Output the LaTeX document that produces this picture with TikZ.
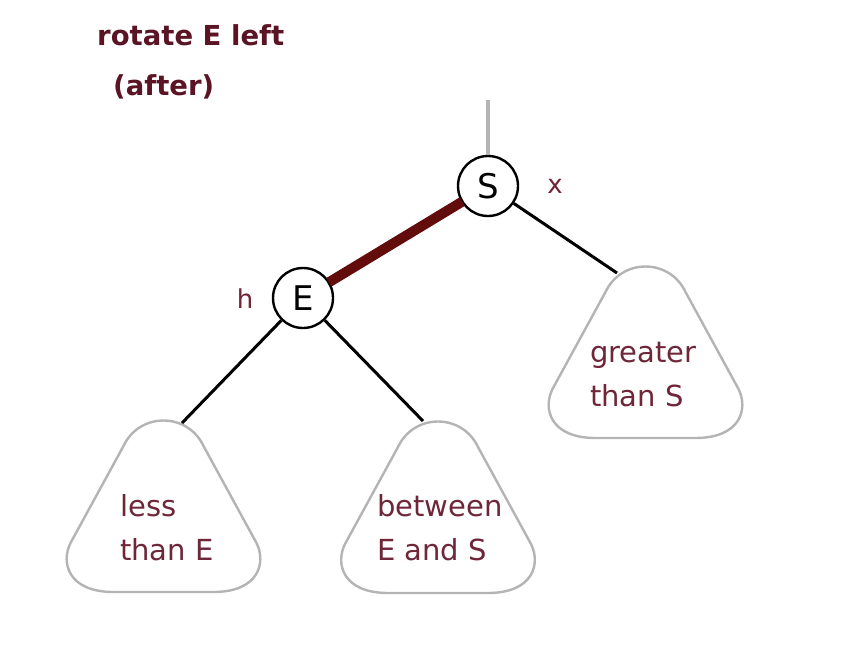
\documentclass[tikz,border=0pt]{standalone}
\usepackage{fontspec}
\setmainfont{DejaVu Sans}
\definecolor{titlered}{HTML}{5A1424}
\definecolor{txtred}{HTML}{6E2638}
\definecolor{edgered}{HTML}{620C0C}
\definecolor{trigray}{HTML}{B4B4B4}
\tikzset{
  bstnode/.style={circle, draw=black, line width=2.4pt, fill=white, minimum size=60pt, inner sep=0pt, font=\fontsize{34}{34}\selectfont},
  edge/.style={line width=3pt, black},
  redge/.style={line width=10pt, edgered},
  tribox/.style={draw=trigray, line width=2.4pt, line join=round},
  tritext/.style={align=left, text=txtred, font=\fontsize{29}{44}\selectfont, inner sep=0pt},
  lbl/.style={text=txtred, font=\fontsize{26}{26}\selectfont, inner sep=0pt},
  ttl/.style={text=titlered, font=\bfseries\fontsize{27.5}{27.5}\selectfont, inner sep=0pt, anchor=base west},
  subtree/.pic={\draw[tribox] (0,174) -- (50,174) .. controls (95,174) and (103,145) .. (93,125) -- (40,28) .. controls (24,-6) and (-24,-6) .. (-40,28) -- (-93,125) .. controls (-103,145) and (-95,174) .. (-50,174) -- cycle;}
}
\begin{document}
\begin{tikzpicture}[x=1pt,y=-1pt]
\useasboundingbox (0,0) rectangle (852,654);
\fill[white] (0,0) rectangle (852,654);
% title
\node[ttl] (t1) at (97,45) {rotate E left};
\node[ttl] (t2) at (113,95) {(after)};
% subtrees
\pic at (163.5,418) {subtree};
\pic at (438,419) {subtree};
\pic at (645.5,264) {subtree};
\coordinate (Ltop) at (182,423);
\coordinate (Mtop) at (423,421);
\coordinate (Rtop) at (617,273);
\coordinate (up) at (488,100);
% nodes
\node[bstnode] (S) at (488,186) {S};
\node[bstnode] (E) at (303,298) {E};
\node[lbl, anchor=base] (x) at (555,193) {x};
\node[lbl, anchor=base] (h) at (245,308) {h};
% edges
\draw[line width=3.8pt, trigray] (up) -- (S);
\draw[redge, shorten <=-1pt, shorten >=-1pt] (S) -- (E);
\draw[edge] (S) -- (Rtop);
\draw[edge] (E) -- (Ltop);
\draw[edge] (E) -- (Mtop);
% subtree texts
\node[tritext, anchor=north west] (lt) at (120,494) {less\\than E};
\node[tritext, anchor=north west] (mt) at (377,494) {between\\E and S};
\node[tritext, anchor=north west] (rt) at (590,342) {greater\\than S};
\end{tikzpicture}
\end{document}
